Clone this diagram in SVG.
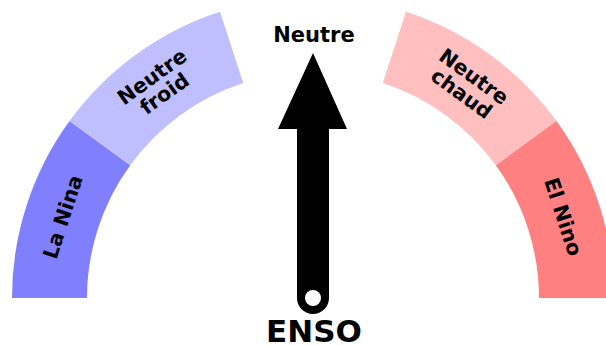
<svg xmlns="http://www.w3.org/2000/svg" width="606" height="345" viewBox="0 0 606 345">
<style>
text{font-family:"DejaVu Sans","Liberation Sans",sans-serif;font-weight:bold;fill:#000;text-anchor:middle}
.lbl{font-size:20.5px}
</style>
<rect width="606" height="345" fill="#fff"/>
<g id="la-nina">
<path d="M12,298 A301,301 0 0 1 69.5,121.1 L130.2,165.2 A226,226 0 0 0 87,298 Z" fill="#8080ff"/>
<text class="lbl" transform="translate(62.4,216.6) rotate(-72)" y="7.5">La Nina</text>
</g>
<g id="neutre-froid">
<path d="M69.5,121.1 A301,301 0 0 1 220,11.7 L243.2,83.1 A226,226 0 0 0 130.2,165.2 Z" fill="#bfbfff"/>
<text class="lbl" transform="translate(158,84.8) rotate(-36)"><tspan x="0" y="-3">Neutre</tspan><tspan x="0" y="18">froid</tspan></text>
</g>
<g id="neutre-chaud">
<path d="M406,11.7 A301,301 0 0 1 556.5,121.1 L495.8,165.2 A226,226 0 0 0 382.8,83.1 Z" fill="#ffbfbf"/>
<text class="lbl" transform="translate(468,84.8) rotate(36)"><tspan x="0" y="-3">Neutre</tspan><tspan x="0" y="18">chaud</tspan></text>
</g>
<g id="el-nino">
<path d="M556.5,121.1 A301,301 0 0 1 614,298 L539,298 A226,226 0 0 0 495.8,165.2 Z" fill="#ff8080"/>
<text class="lbl" transform="translate(563.6,216.6) rotate(72)" y="7.5">El Nino</text>
</g>
<g id="neutre">
<text x="314" y="42" style="font-size:21px">Neutre</text>
</g>
<g id="connectors">
<g id="needle">
<path d="M297,129 L278,129 L313,53 L347,129 L329,129 L329,298 A16,16 0 0 1 297,298 Z" fill="#000"/>
<circle cx="313" cy="298" r="8" fill="#fff"/>
</g>
</g>
<g id="enso">
<text x="314" y="342" style="font-size:31px">ENSO</text>
</g>
</svg>
